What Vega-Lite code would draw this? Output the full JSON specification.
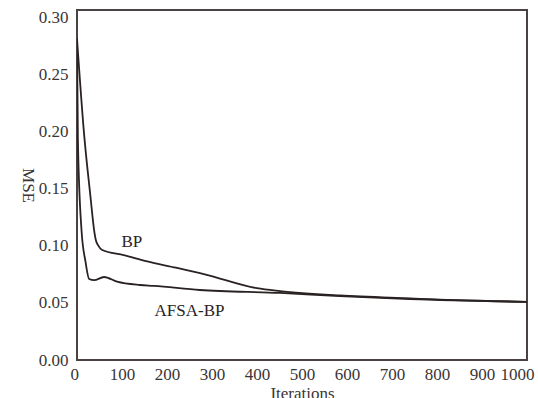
{
  "$schema": "https://vega.github.io/schema/vega-lite/v6.json",
  "width": 450,
  "height": 350,
  "autosize": {"type": "none"},
  "padding": {"left": 77, "top": 10, "right": 11, "bottom": 38},
  "background": "white",
  "config": {
    "view": {"stroke": "#4a4242", "strokeWidth": 2},
    "font": "Liberation Serif",
    "axis": {"grid": false, "ticks": false, "domain": false, "labelFont": "Liberation Serif", "titleFont": "Liberation Serif", "labelColor": "#3a3535", "titleColor": "#3a3535", "labelFontSize": 17, "titleFontSize": 17, "titleFontWeight": "normal", "labelOverlap": false}
  },
  "datasets": {
    "curves": [
      {"series": "BP", "iter": 0, "mse": 0.282},
      {"series": "BP", "iter": 16, "mse": 0.197},
      {"series": "BP", "iter": 30, "mse": 0.143},
      {"series": "BP", "iter": 38, "mse": 0.114},
      {"series": "BP", "iter": 42, "mse": 0.105},
      {"series": "BP", "iter": 47, "mse": 0.1005},
      {"series": "BP", "iter": 56, "mse": 0.0965},
      {"series": "BP", "iter": 104, "mse": 0.092},
      {"series": "BP", "iter": 156, "mse": 0.0864},
      {"series": "BP", "iter": 220, "mse": 0.0810},
      {"series": "BP", "iter": 284, "mse": 0.0752},
      {"series": "BP", "iter": 400, "mse": 0.063},
      {"series": "BP", "iter": 451, "mse": 0.0605},
      {"series": "BP", "iter": 584, "mse": 0.0566},
      {"series": "BP", "iter": 740, "mse": 0.054},
      {"series": "BP", "iter": 873, "mse": 0.052},
      {"series": "BP", "iter": 1000, "mse": 0.051},
      {"series": "AFSA-BP", "iter": 0, "mse": 0.282},
      {"series": "AFSA-BP", "iter": 2, "mse": 0.193},
      {"series": "AFSA-BP", "iter": 10, "mse": 0.114},
      {"series": "AFSA-BP", "iter": 19, "mse": 0.086},
      {"series": "AFSA-BP", "iter": 27, "mse": 0.071},
      {"series": "AFSA-BP", "iter": 38, "mse": 0.0700},
      {"series": "AFSA-BP", "iter": 60, "mse": 0.0728},
      {"series": "AFSA-BP", "iter": 89, "mse": 0.0687},
      {"series": "AFSA-BP", "iter": 140, "mse": 0.0658},
      {"series": "AFSA-BP", "iter": 171, "mse": 0.065},
      {"series": "AFSA-BP", "iter": 273, "mse": 0.0614},
      {"series": "AFSA-BP", "iter": 451, "mse": 0.0588},
      {"series": "AFSA-BP", "iter": 584, "mse": 0.056},
      {"series": "AFSA-BP", "iter": 740, "mse": 0.0535},
      {"series": "AFSA-BP", "iter": 1000, "mse": 0.051}
    ],
    "labels": [
      {"text": "BP", "iter": 122, "mse": 0.1035},
      {"text": "AFSA-BP", "iter": 250, "mse": 0.043}
    ]
  },
  "layer": [
    {
      "data": {"name": "curves"},
      "mark": {"type": "line", "interpolate": "monotone", "color": "#2a2222", "strokeWidth": 1.8, "clip": true},
      "encoding": {
        "x": {"field": "iter", "type": "quantitative", "scale": {"domain": [0, 1000], "nice": false},
          "axis": {"title": "Iterations", "values": [0,100,200,300,400,500,600,700,800,900,1000], "format": "d", "labelFlush": true, "labelFlushOffset": 7, "labelPadding": 6, "titlePadding": 3}},
        "y": {"field": "mse", "type": "quantitative", "scale": {"domain": [0, 0.307], "nice": false, "zero": false},
          "axis": {"title": "MSE", "values": [0,0.05,0.1,0.15,0.2,0.25,0.3], "format": ".2f", "labelPadding": 9, "titleAngle": 90, "titlePadding": 20}},
        "detail": {"field": "series"}
      }
    },
    {
      "data": {"name": "labels"},
      "mark": {"type": "text", "font": "Liberation Serif", "fontSize": 17, "color": "#2a2222"},
      "encoding": {
        "x": {"field": "iter", "type": "quantitative"},
        "y": {"field": "mse", "type": "quantitative"},
        "text": {"field": "text"}
      }
    }
  ]
}
